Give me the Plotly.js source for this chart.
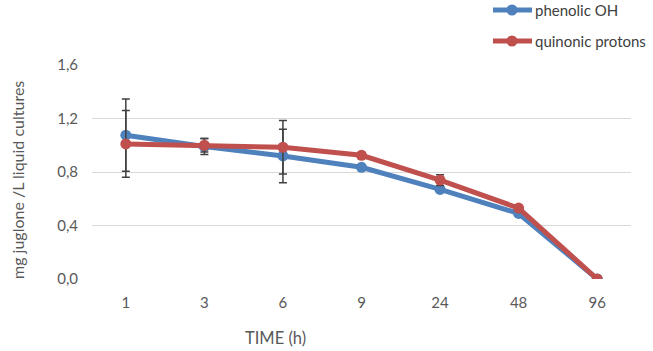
<!DOCTYPE html>
<html><head><meta charset="utf-8">
<script src="https://cdn.plot.ly/plotly-3.0.1.min.js"></script>
<style>html,body{margin:0;padding:0;background:#fff}#chart{width:653px;height:351px}</style>
</head><body><div id="chart"></div>
<script>
var categories = ["1","3","6","9","24","48","96"];
var phenolicOH = [1.075, 0.99, 0.92, 0.835, 0.67, 0.49, 0.0];
var phenolicErr = [0.27, 0.06, 0.20, 0.0, 0.0, 0.0, 0.0];
var quinonic = [1.01, 1.0, 0.985, 0.925, 0.74, 0.53, 0.0];
var quinonicErr = [0.25, 0.05, 0.20, 0.02, 0.04, 0.02, 0.0];
var seriesNames = ["phenolic OH", "quinonic protons"];
var yTicks = [0, 0.4, 0.8, 1.2, 1.6];

var blue = "#4F81BD", red = "#C0504D", errCol = "#404040";
var FONT = "Lato";
function tr(y, err, name, col){
  return {x: categories, y: y, name: name, type: "scatter", mode: "lines+markers",
    line: {color: col, width: 5}, marker: {color: col, size: 11},
    error_y: {type: "data", array: err, visible: true, color: errCol, thickness: 1.5, width: 4},
    showlegend: false, hoverinfo: "skip"};
}
var data = [tr(phenolicOH, phenolicErr, seriesNames[0], blue), tr(quinonic, quinonicErr, seriesNames[1], red)];

var shapes = [], annotations = [];
var legY = [10, 41], legCol = [blue, red];
for (var i = 0; i < 2; i++) {
  shapes.push({type: "line", xref: "paper", yref: "paper", x0: (493-92)/539, x1: (532-92)/539,
    y0: 1 + (65 - legY[i])/214, y1: 1 + (65 - legY[i])/214, line: {color: legCol[i], width: 5}});
  shapes.push({type: "circle", xref: "paper", yref: "paper", xsizemode: "pixel", ysizemode: "pixel",
    xanchor: (512-92)/539, yanchor: 1 + (65 - legY[i])/214, x0: -5.5, x1: 5.5, y0: -5.5, y1: 5.5,
    fillcolor: legCol[i], line: {width: 0}});
  annotations.push({xref: "paper", yref: "paper", x: (533-92)/539, y: 1 + (65 - legY[i])/214,
    xanchor: "left", yanchor: "middle", showarrow: false, text: seriesNames[i],
    font: {family: FONT, size: 15, color: "#404040"}});
}
annotations.push({xref: "paper", yref: "paper", x: (275-92)/539, y: -(338-279)/214, xanchor: "center", yanchor: "middle",
  showarrow: false, text: "TIME (h)", font: {family: FONT, size: 16.5, color: "#595959"}});
annotations.push({xref: "paper", yref: "paper", x: -(92-17)/539, y: (279-180)/214, xanchor: "center", yanchor: "middle",
  showarrow: false, textangle: -90, text: "mg juglone /L liquid cultures", font: {family: FONT, size: 16, color: "#595959"}});

var layout = {
  width: 653, height: 351, margin: {l: 92, r: 22, t: 65, b: 72},
  paper_bgcolor: "#fff", plot_bgcolor: "#fff", separators: ",.",
  showlegend: false,
  xaxis: {type: "category", showgrid: false, zeroline: false, showline: false, ticks: "",
    tickfont: {family: FONT, size: 15, color: "#595959"}, ticklabelstandoff: 13, fixedrange: true},
  yaxis: {range: [0, 1.6], tickvals: yTicks, tickformat: ".1f", showgrid: true, gridcolor: "#D9D9D9", gridwidth: 1,
    zeroline: false, showline: false, ticks: "", ticklabelstandoff: 13,
    tickfont: {family: FONT, size: 15, color: "#595959"}, fixedrange: true},
  shapes: shapes, annotations: annotations
};
Plotly.newPlot("chart", data, layout, {displayModeBar: false, staticPlot: true});
</script></body></html>
